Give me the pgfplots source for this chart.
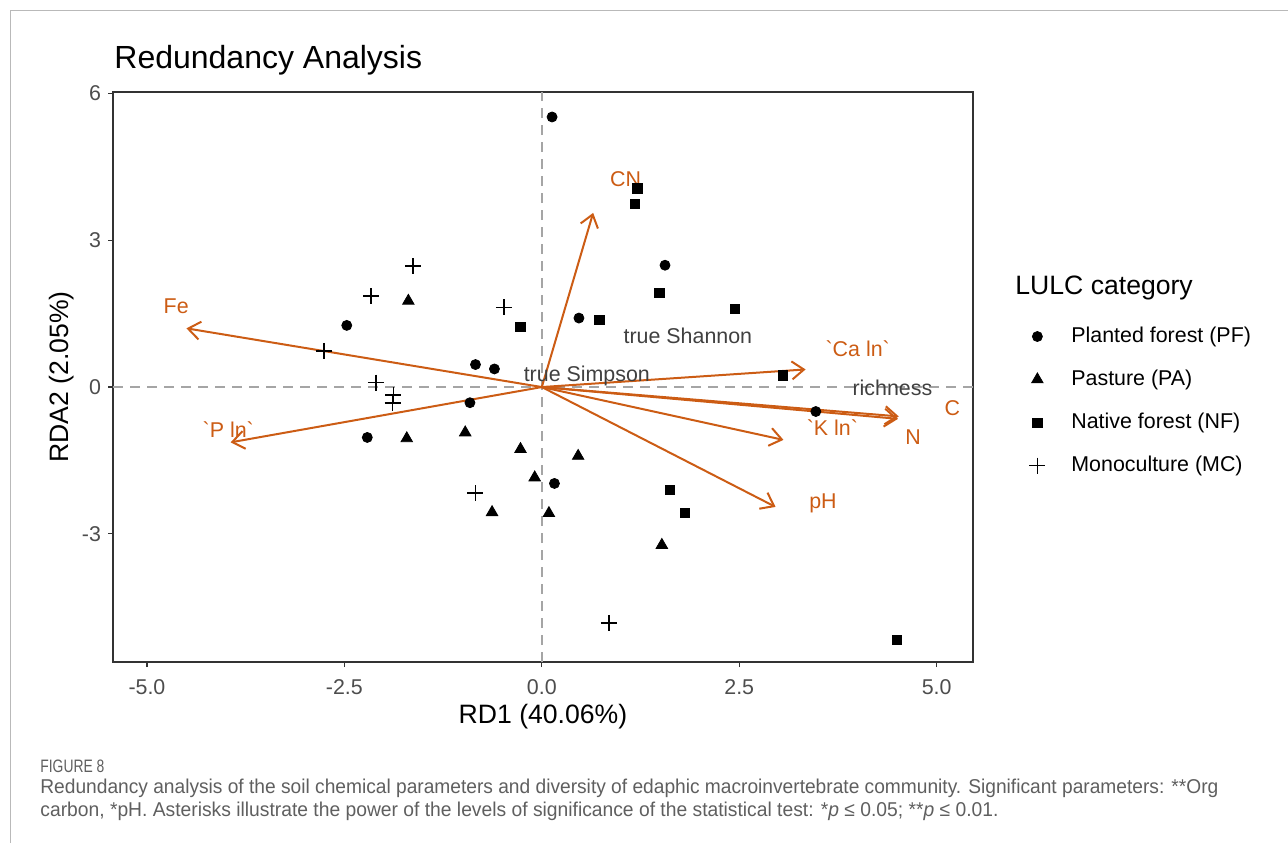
\documentclass[border=0pt]{standalone}
\usepackage{pgfplots}
\pgfplotsset{compat=1.18}
\usepackage{fontspec}
\setmainfont{Liberation Sans}
\setmonofont{Liberation Sans}
\usepackage{graphicx}
\usetikzlibrary{arrows.meta}

\definecolor{arr}{RGB}{204,92,20}
\definecolor{tk}{RGB}{77,77,77}
\definecolor{lbl}{RGB}{64,64,64}
\definecolor{cap}{RGB}{95,95,95}
\definecolor{frm}{RGB}{51,51,51}
\definecolor{zl}{RGB}{165,165,165}

\newcommand\fsA{\fontsize{10.7}{12.8}\selectfont}
\newcommand\fsB{\fontsize{13.3}{16}\selectfont}

\begin{document}
\begin{tikzpicture}
\useasboundingbox (0,0) rectangle (644pt,-421.5pt);
\draw[gray!55, line width=0.5pt] (5pt,-421.5pt) -- (5pt,-5pt) -- (644pt,-5pt);
\node[anchor=west, font=\fontsize{16}{19}\selectfont, inner sep=0pt] at (57pt,-30pt) {Redundancy Analysis};
\begin{axis}[
  at={(56.5pt,-331pt)}, anchor=south west,
  scale only axis, width=430pt, height=285pt,
  xmin=-5.43, xmax=5.46, ymin=-5.62, ymax=6.03,
  xtick={-5,-2.5,0,2.5,5}, xticklabels={-5.0,-2.5,0.0,2.5,5.0},
  ytick={-3,0,3,6}, yticklabels={-3,0,3,6},
  xtick pos=left, ytick pos=left,
  tick align=outside, major tick length=2.5pt,
  axis line style={frm, line width=0.6pt},
  every tick/.style={frm, line width=0.6pt},
  tick label style={font=\fsA, text=tk},
  xticklabel style={yshift=-2.5pt},
  xlabel={RD1 (40.06\%)}, ylabel={RDA2 (2.05\%)},
  label style={font=\fsB},
  xlabel style={at={(axis description cs:0.5,-0.0965)}, anchor=center},
  ylabel style={at={(axis description cs:-0.0593,0.5)}, anchor=center},
  legend style={at={(axis description cs:1.0651,0.5902)}, anchor=north west,
    draw=none, fill=none, inner sep=0pt, row sep=11pt, column sep=4pt,
    font=\fsA, nodes={inner sep=0pt, text height=8pt, text depth=2.5pt}},
  legend cell align=left,
  legend image code/.code={\path[draw=none, fill=none] (-4pt,-2pt) rectangle (13pt,2pt); \draw[#1] plot coordinates {(0pt,0pt)};},
]
% zero lines
\addplot[forget plot, zl, dashed, dash pattern=on 5pt off 3.5pt, line width=0.75pt] coordinates {(0,-5.62) (0,6.03)};
\addplot[forget plot, zl, dashed, dash pattern=on 5pt off 3.5pt, line width=0.75pt] coordinates {(-5.43,0) (5.46,0)};

% Planted forest
\addplot[only marks, mark=*, mark size=2.5pt, black] coordinates {
(0.13,5.52) (1.56,2.49) (0.47,1.41) (-2.47,1.26) (-0.84,0.46) (-0.60,0.37)
(-0.91,-0.32) (-2.21,-1.03) (0.16,-1.97) (3.47,-0.50)};
\addlegendentry{Planted forest (PF)}
% Pasture
\addplot[only marks, mark=triangle*, mark size=3.3pt, black] coordinates {
(-1.69,1.76) (-1.71,-1.05) (-0.97,-0.93) (-0.27,-1.27) (-0.09,-1.85)
(0.46,-1.41) (-0.63,-2.56) (0.09,-2.58) (1.52,-3.23)};
\addlegendentry{Pasture (PA)}
% Native forest
\addplot[only marks, mark=square*, mark size=2.3pt, black] coordinates {
(1.21,4.06) (1.18,3.74) (1.49,1.93) (0.73,1.38) (2.45,1.60) (-0.27,1.23)
(3.05,0.24) (1.62,-2.11) (1.81,-2.57) (4.50,-5.16)};
\addlegendentry{Native forest (NF)}
% Monoculture
\addplot[only marks, mark=+, mark size=4pt, black, mark options={line width=0.8pt}] coordinates {
(-1.63,2.47) (-2.16,1.86) (-0.48,1.63) (-2.76,0.74) (-2.10,0.09)
(-1.88,-0.16) (-1.89,-0.32) (-0.84,-2.17) (0.85,-4.82)};
\addlegendentry{Monoculture (MC)}

% arrows
\pgfplotsset{every axis plot/.append style={forget plot}}
\addplot[arr, line width=1pt, -{Straight Barb[length=6pt, width=9pt, line width=1pt]}] coordinates {(0,0) (0.65,3.56)};
\addplot[arr, line width=1pt, -{Straight Barb[length=6pt, width=9pt, line width=1pt]}] coordinates {(0,0) (-4.50,1.20)};
\addplot[arr, line width=1pt, -{Straight Barb[length=6pt, width=9pt, line width=1pt]}] coordinates {(0,0) (3.34,0.36)};
\addplot[arr, line width=1pt, -{Straight Barb[length=6pt, width=9pt, line width=1pt]}] coordinates {(0,0) (4.52,-0.60)};
\addplot[arr, line width=1pt, -{Straight Barb[length=6pt, width=9pt, line width=1pt]}] coordinates {(0,0) (4.51,-0.65)};
\addplot[arr, line width=1pt, -{Straight Barb[length=6pt, width=9pt, line width=1pt]}] coordinates {(0,0) (3.06,-1.08)};
\addplot[arr, line width=1pt, -{Straight Barb[length=6pt, width=9pt, line width=1pt]}] coordinates {(0,0) (2.96,-2.45)};
\addplot[arr, line width=1pt, -{Straight Barb[length=6pt, width=9pt, line width=1pt]}] coordinates {(0,0) (-3.94,-1.13)};

% labels
\node[text=arr, font=\fsA] at (axis cs:1.06,4.25) {CN};
\node[text=arr, font=\fsA] at (axis cs:-4.63,1.66) {Fe};
\node[text=arr, font=\fsA] at (axis cs:4.00,0.78) {\ttfamily `Ca ln`};
\node[text=arr, font=\fsA] at (axis cs:5.20,-0.43) {C};
\node[text=arr, font=\fsA] at (axis cs:4.70,-1.02) {N};
\node[text=arr, font=\fsA] at (axis cs:3.68,-0.82) {\ttfamily `K ln`};
\node[text=arr, font=\fsA] at (axis cs:3.56,-2.37) {pH};
\node[text=arr, font=\fsA] at (axis cs:-3.97,-0.88) {\ttfamily `P ln`};
\node[text=lbl, font=\fsA] at (axis cs:1.85,1.04) {true Shannon};
\node[text=lbl, font=\fsA] at (axis cs:0.57,0.22) {true Simpson};
\node[text=lbl, font=\fsA] at (axis cs:4.44,-0.02) {richness};
\end{axis}
\node[anchor=west, font=\fsB, inner sep=0pt] at (507.5pt,-144pt) {LULC category};
\node[anchor=west, inner sep=0pt, text=cap] at (20pt,-383pt) {\resizebox{32pt}{\height}{\fontsize{9}{10}\selectfont FIGURE 8}};
\node[anchor=west, inner sep=0pt, text=cap] at (20pt,-394pt) {\resizebox{589pt}{\height}{\fontsize{10}{12}\selectfont Redundancy analysis of the soil chemical parameters and diversity of edaphic macroinvertebrate community. Significant parameters: **Org}};
\node[anchor=west, inner sep=0pt, text=cap] at (20pt,-405.5pt) {\resizebox{479pt}{\height}{\fontsize{10}{12}\selectfont carbon, *pH. Asterisks illustrate the power of the levels of significance of the statistical test: *\textit{p}~≤~0.05; **\textit{p}~≤~0.01.}};
\end{tikzpicture}
\end{document}
